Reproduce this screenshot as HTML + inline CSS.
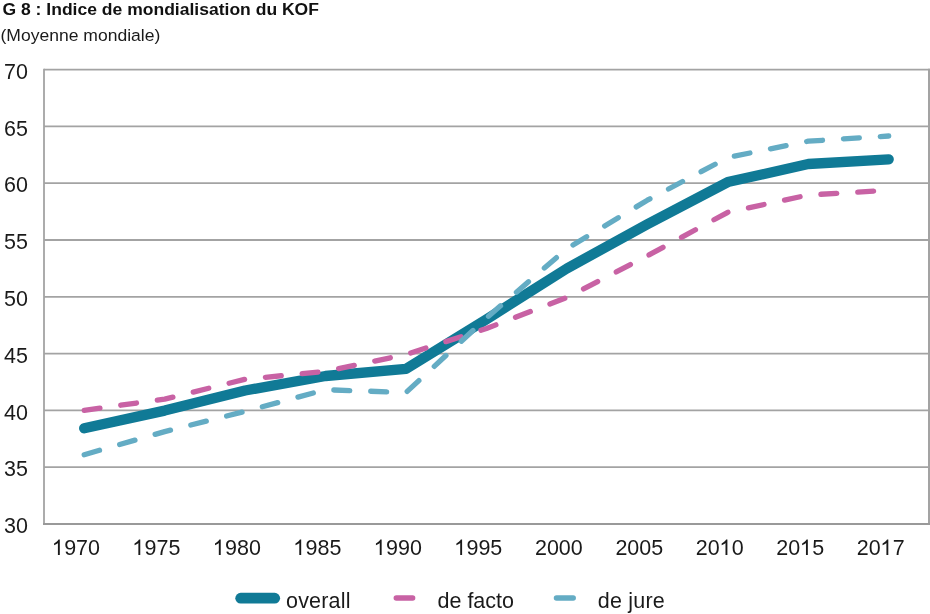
<!DOCTYPE html>
<html><head><meta charset="utf-8"><style>
html,body{margin:0;padding:0;background:#fff;width:930px;height:614px;overflow:hidden}
svg{position:absolute;left:0;top:0;font-family:"Liberation Sans",sans-serif;will-change:transform}
</style></head><body>
<svg width="930" height="614" viewBox="0 0 930 614">
<text x="2.5" y="15" font-weight="bold" font-size="16.4" fill="#111" transform="matrix(1.069 0 0 1 -0.17 0)">G 8 : Indice de mondialisation du KOF</text>
<text x="0.5" y="40.7" font-size="16.5" transform="matrix(1.064 0 0 1 -0.03 0)" fill="#1a1a1a">(Moyenne mondiale)</text>
<g stroke="#a3a3a3" stroke-width="1.8" fill="none"><line x1="44" x2="930" y1="69.60" y2="69.60"/><line x1="44" x2="930" y1="126.40" y2="126.40"/><line x1="44" x2="930" y1="183.20" y2="183.20"/><line x1="44" x2="930" y1="240.00" y2="240.00"/><line x1="44" x2="930" y1="296.80" y2="296.80"/><line x1="44" x2="930" y1="353.60" y2="353.60"/><line x1="44" x2="930" y1="410.40" y2="410.40"/><line x1="44" x2="930" y1="467.20" y2="467.20"/>
<line x1="44" x2="44" y1="68.7" y2="524.9"/><line x1="929" x2="929" y1="68.7" y2="524.9" stroke-width="2"/></g>
<line x1="43.1" x2="930" y1="524" y2="524" stroke="#999" stroke-width="1.8"/>
<g font-size="21.5" fill="#1a1a1a"><text x="28" y="78.80" text-anchor="end" transform="matrix(1 0 0 1.04 0 -3.152)">70</text><text x="28" y="135.60" text-anchor="end" transform="matrix(1 0 0 1.04 0 -5.424)">65</text><text x="28" y="192.40" text-anchor="end" transform="matrix(1 0 0 1.04 0 -7.696)">60</text><text x="28" y="249.20" text-anchor="end" transform="matrix(1 0 0 1.04 0 -9.968)">55</text><text x="28" y="306.00" text-anchor="end" transform="matrix(1 0 0 1.04 0 -12.240)">50</text><text x="28" y="362.80" text-anchor="end" transform="matrix(1 0 0 1.04 0 -14.512)">45</text><text x="28" y="419.60" text-anchor="end" transform="matrix(1 0 0 1.04 0 -16.784)">40</text><text x="28" y="476.40" text-anchor="end" transform="matrix(1 0 0 1.04 0 -19.056)">35</text><text x="28" y="533.20" text-anchor="end" transform="matrix(1 0 0 1.04 0 -21.328)">30</text><path transform="translate(52.19,555) scale(0.010498,-0.010498)" d="M725 0H545V1140Q475 1080 375 1020Q275 962 180 935V1105Q330 1170 445 1275Q555 1378 605 1476H725Z"/><text x="64.14" y="555" transform="matrix(1 0 0 1.04 0 -22.200)">9</text><text x="76.10" y="555" transform="matrix(1 0 0 1.04 0 -22.200)">7</text><text x="88.06" y="555" transform="matrix(1 0 0 1.04 0 -22.200)">0</text><path transform="translate(132.65,555) scale(0.010498,-0.010498)" d="M725 0H545V1140Q475 1080 375 1020Q275 962 180 935V1105Q330 1170 445 1275Q555 1378 605 1476H725Z"/><text x="144.60" y="555" transform="matrix(1 0 0 1.04 0 -22.200)">9</text><text x="156.56" y="555" transform="matrix(1 0 0 1.04 0 -22.200)">7</text><text x="168.52" y="555" transform="matrix(1 0 0 1.04 0 -22.200)">5</text><path transform="translate(213.11,555) scale(0.010498,-0.010498)" d="M725 0H545V1140Q475 1080 375 1020Q275 962 180 935V1105Q330 1170 445 1275Q555 1378 605 1476H725Z"/><text x="225.06" y="555" transform="matrix(1 0 0 1.04 0 -22.200)">9</text><text x="237.02" y="555" transform="matrix(1 0 0 1.04 0 -22.200)">8</text><text x="248.98" y="555" transform="matrix(1 0 0 1.04 0 -22.200)">0</text><path transform="translate(293.57,555) scale(0.010498,-0.010498)" d="M725 0H545V1140Q475 1080 375 1020Q275 962 180 935V1105Q330 1170 445 1275Q555 1378 605 1476H725Z"/><text x="305.52" y="555" transform="matrix(1 0 0 1.04 0 -22.200)">9</text><text x="317.48" y="555" transform="matrix(1 0 0 1.04 0 -22.200)">8</text><text x="329.44" y="555" transform="matrix(1 0 0 1.04 0 -22.200)">5</text><path transform="translate(374.03,555) scale(0.010498,-0.010498)" d="M725 0H545V1140Q475 1080 375 1020Q275 962 180 935V1105Q330 1170 445 1275Q555 1378 605 1476H725Z"/><text x="385.98" y="555" transform="matrix(1 0 0 1.04 0 -22.200)">9</text><text x="397.94" y="555" transform="matrix(1 0 0 1.04 0 -22.200)">9</text><text x="409.90" y="555" transform="matrix(1 0 0 1.04 0 -22.200)">0</text><path transform="translate(454.49,555) scale(0.010498,-0.010498)" d="M725 0H545V1140Q475 1080 375 1020Q275 962 180 935V1105Q330 1170 445 1275Q555 1378 605 1476H725Z"/><text x="466.44" y="555" transform="matrix(1 0 0 1.04 0 -22.200)">9</text><text x="478.40" y="555" transform="matrix(1 0 0 1.04 0 -22.200)">9</text><text x="490.36" y="555" transform="matrix(1 0 0 1.04 0 -22.200)">5</text><text x="534.95" y="555" transform="matrix(1 0 0 1.04 0 -22.200)">2</text><text x="546.90" y="555" transform="matrix(1 0 0 1.04 0 -22.200)">0</text><text x="558.86" y="555" transform="matrix(1 0 0 1.04 0 -22.200)">0</text><text x="570.82" y="555" transform="matrix(1 0 0 1.04 0 -22.200)">0</text><text x="615.41" y="555" transform="matrix(1 0 0 1.04 0 -22.200)">2</text><text x="627.36" y="555" transform="matrix(1 0 0 1.04 0 -22.200)">0</text><text x="639.32" y="555" transform="matrix(1 0 0 1.04 0 -22.200)">0</text><text x="651.28" y="555" transform="matrix(1 0 0 1.04 0 -22.200)">5</text><text x="695.87" y="555" transform="matrix(1 0 0 1.04 0 -22.200)">2</text><text x="707.82" y="555" transform="matrix(1 0 0 1.04 0 -22.200)">0</text><path transform="translate(719.78,555) scale(0.010498,-0.010498)" d="M725 0H545V1140Q475 1080 375 1020Q275 962 180 935V1105Q330 1170 445 1275Q555 1378 605 1476H725Z"/><text x="731.74" y="555" transform="matrix(1 0 0 1.04 0 -22.200)">0</text><text x="776.33" y="555" transform="matrix(1 0 0 1.04 0 -22.200)">2</text><text x="788.28" y="555" transform="matrix(1 0 0 1.04 0 -22.200)">0</text><path transform="translate(800.24,555) scale(0.010498,-0.010498)" d="M725 0H545V1140Q475 1080 375 1020Q275 962 180 935V1105Q330 1170 445 1275Q555 1378 605 1476H725Z"/><text x="812.20" y="555" transform="matrix(1 0 0 1.04 0 -22.200)">5</text><text x="856.79" y="555" transform="matrix(1 0 0 1.04 0 -22.200)">2</text><text x="868.74" y="555" transform="matrix(1 0 0 1.04 0 -22.200)">0</text><path transform="translate(880.70,555) scale(0.010498,-0.010498)" d="M725 0H545V1140Q475 1080 375 1020Q275 962 180 935V1105Q330 1170 445 1275Q555 1378 605 1476H725Z"/><text x="892.66" y="555" transform="matrix(1 0 0 1.04 0 -22.200)">7</text></g>
<g fill="none" stroke-linejoin="round" stroke-linecap="round">
<polyline points="84.20,428.30 164.65,410.60 245.10,390.50 325.55,376.00 406.00,368.80 486.45,319.30 566.90,268.50 647.35,224.20 727.80,182.10 808.25,164.00 888.70,159.30" stroke="#107a96" stroke-width="10.3"/>
<polyline points="84.20,410.30 164.65,399.10 245.10,379.30 325.55,371.40 406.00,354.50 486.45,328.50 566.90,297.50 647.35,255.80 727.80,212.30 808.25,195.00 888.70,190.30" stroke="#c862a4" stroke-width="5.3" stroke-dasharray="15.9 21"/>
<polyline points="84.20,454.70 164.65,431.60 245.10,411.40 325.55,389.70 406.00,392.50 486.45,318.00 566.90,248.60 647.35,200.20 727.80,157.50 808.25,141.20 888.70,136.00" stroke="#64acc4" stroke-width="5.3" stroke-dasharray="15.9 21"/>
</g>
<g stroke-linecap="round" fill="none">
<line x1="240.7" x2="274.7" y1="598.2" y2="598.2" stroke="#107a96" stroke-width="10.8"/>
<line x1="396.3" x2="412.6" y1="598" y2="598" stroke="#c862a4" stroke-width="5.5"/>
<line x1="556.5" x2="573.2" y1="598" y2="598" stroke="#64acc4" stroke-width="5.5"/>
</g>
<g font-size="21.5" fill="#1a1a1a" letter-spacing="0.2">
<text x="286" y="607.5">overall</text>
<text x="437.5" y="607.5" letter-spacing="0">de facto</text>
<text x="597.8" y="607.5">de jure</text>
</g>
</svg>
</body></html>
